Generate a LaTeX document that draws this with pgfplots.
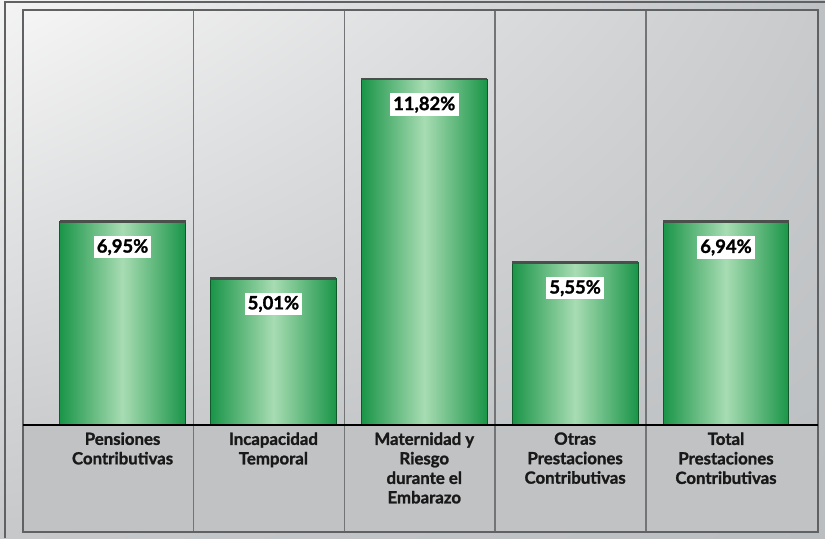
\documentclass[border=0pt]{standalone}
\usepackage{pgfplots}
\pgfplotsset{compat=1.18}
\usetikzlibrary{shadings}
\usepackage{fontspec}
\setmainfont{Lato}
\newfontfamily\lblfont{Lato}[BoldFeatures={FakeBold=1.3}]
\definecolor{bardark}{HTML}{1A9548}
\definecolor{barlight}{HTML}{A8DCB3}
\definecolor{topline}{HTML}{4A4F4C}
\definecolor{framecol}{HTML}{5F6163}
\definecolor{divcol}{HTML}{727476}
\definecolor{belowgray}{HTML}{C0C2C4}
\definecolor{bgUL}{HTML}{F4F4F4}
\definecolor{bgUR}{HTML}{BEC1C4}
\definecolor{bgLL}{HTML}{C6C8CA}
\definecolor{bgLR}{HTML}{BBBEC1}
\definecolor{inUL}{HTML}{F5F5F5}
\definecolor{inUR}{HTML}{C8CACC}
\definecolor{inLL}{HTML}{CBCDCF}
\definecolor{inLR}{HTML}{BEC1C3}
\pgfplotsset{
  greenbar/.style={ybar, bar width=0.834, draw=bardark!60!black, line width=0.4pt,
    left color=bardark, right color=bardark, middle color=barlight,
    nodes near coords={\pgfmathprintnumber[fixed, fixed zerofill, precision=2, use comma, assume math mode=true]{\pgfplotspointmeta}\%},
    every node near coord/.append style={anchor=north, yshift=-7pt, fill=white, inner sep=1.6pt, text=black, font=\lblfont\bfseries\fontsize{9.2}{10}\selectfont}},
}
\begin{document}
\begin{tikzpicture}
\useasboundingbox (0,0) rectangle (412.5pt,269pt);
\shade[upper left=bgUL, upper right=bgUR, lower left=bgLL, lower right=bgLR] (0,0) rectangle (412.5pt,269pt);
\draw[framecol, line width=0.6pt] (2.5pt,0) -- (2.5pt,268pt) -- (412.5pt,268pt);
\begin{axis}[
  axis on top,
  at={(11.5pt,3pt)}, anchor=south west,
  scale only axis, width=397.5pt, height=261pt,
  xmin=-0.66, xmax=4.61, ymin=-3.66, ymax=14.18,
  axis line style={draw=none},
  ytick=\empty,
  xtick={0,1,2,3,4},
  major tick length=0pt,
  xticklabels={Pensiones\\Contributivas, Incapacidad\\Temporal, Maternidad y\\Riesgo\\durante el\\Embarazo, Otras\\Prestaciones\\Contributivas, Total\\Prestaciones\\Contributivas},
  xticklabel style={align=center, anchor=north, inner sep=0pt, yshift=50pt, font=\lblfont\bfseries\fontsize{8.4}{9.75}\selectfont, text=black!90},
  clip=false,
]
\fill[belowgray] (axis cs:-0.66,-3.66) rectangle (axis cs:4.61,0);
\shade[upper left=inUL, upper right=inUR, lower left=inLL, lower right=inLR] (axis cs:-0.66,0) rectangle (axis cs:4.61,14.18);
\draw[divcol, line width=0.7pt] (axis cs:0.47,-3.66) -- (axis cs:0.47,14.18);
\draw[divcol, line width=0.7pt] (axis cs:1.47,-3.66) -- (axis cs:1.47,14.18);
\draw[divcol, line width=0.7pt] (axis cs:2.47,-3.66) -- (axis cs:2.47,14.18);
\draw[divcol, line width=0.7pt] (axis cs:3.47,-3.66) -- (axis cs:3.47,14.18);
\draw[framecol, line width=0.8pt] (axis cs:-0.66,-3.66) rectangle (axis cs:4.61,14.18);
\addplot[greenbar] coordinates {(0,6.95)};
\addplot[greenbar] coordinates {(1,5.01)};
\addplot[greenbar] coordinates {(2,11.82)};
\addplot[greenbar] coordinates {(3,5.55)};
\addplot[greenbar] coordinates {(4,6.94)};
\addplot[only marks, mark=-, mark size=31.5pt, mark options={line width=1.4pt, draw=topline}]
  coordinates {(0,6.95) (1,5.01) (2,11.82) (3,5.55) (4,6.94)};
\draw[black, line width=1.1pt] (axis cs:-0.66,0) -- (axis cs:4.61,0);
\end{axis}
\end{tikzpicture}
\end{document}
